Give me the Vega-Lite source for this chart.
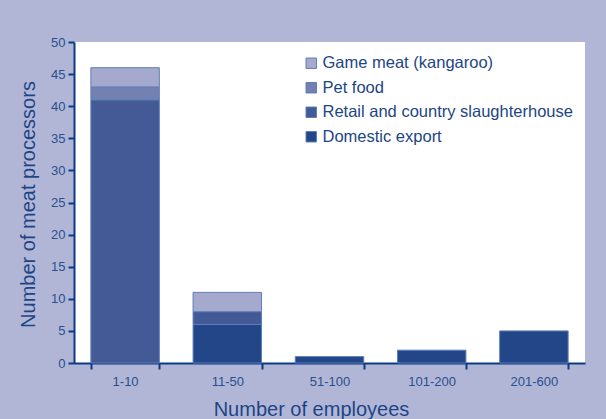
{
  "$schema": "https://vega.github.io/schema/vega-lite/v6.json",
  "width": 511,
  "height": 321,
  "autosize": {"type": "none"},
  "padding": {"left": 74, "top": 42, "right": 21, "bottom": 56},
  "background": "#b1b6d7",
  "config": {
    "font": "Liberation Sans",
    "view": {"fill": "#ffffff", "stroke": null},
    "axis": {
      "domainColor": "#0b3b85",
      "domainWidth": 2,
      "tickColor": "#0b3b85",
      "tickWidth": 2,
      "tickSize": 6,
      "labelColor": "#2a4f8c",
      "labelFontSize": 13,
      "titleColor": "#1d4585",
      "titleFontSize": 20,
      "titleFontWeight": "normal",
      "grid": false
    }
  },
  "data": {
    "values": [
      {"employees": "1-10", "type": "Retail and country slaughterhouse", "k": 2, "count": 41},
      {"employees": "1-10", "type": "Pet food", "k": 3, "count": 2},
      {"employees": "1-10", "type": "Game meat (kangaroo)", "k": 4, "count": 3},
      {"employees": "11-50", "type": "Domestic export", "k": 1, "count": 6},
      {"employees": "11-50", "type": "Retail and country slaughterhouse", "k": 2, "count": 2},
      {"employees": "11-50", "type": "Game meat (kangaroo)", "k": 4, "count": 3},
      {"employees": "51-100", "type": "Domestic export", "k": 1, "count": 1},
      {"employees": "101-200", "type": "Domestic export", "k": 1, "count": 2},
      {"employees": "201-600", "type": "Domestic export", "k": 1, "count": 5}
    ]
  },
  "mark": {"type": "bar", "stroke": "#5f7fb8", "strokeWidth": 1},
  "encoding": {
    "x": {
      "field": "employees",
      "type": "nominal",
      "sort": ["1-10", "11-50", "51-100", "101-200", "201-600"],
      "scale": {"paddingInner": 0.33, "paddingOuter": 0.165},
      "axis": {
        "title": "Number of employees",
        "labelAngle": 0,
        "labelPadding": 6,
        "tickBand": "extent",
        "titleX": 237,
        "titleY": 52,
        "titleBaseline": "alphabetic"
      }
    },
    "y": {
      "field": "count",
      "type": "quantitative",
      "stack": "zero",
      "scale": {"domain": [0, 50], "nice": false},
      "axis": {
        "title": "Number of meat processors",
        "values": [0, 5, 10, 15, 20, 25, 30, 35, 40, 45, 50],
        "labelPadding": 3,
        "titleX": -40,
        "titleY": 162,
        "titleBaseline": "alphabetic",
        "titleAlign": "center"
      }
    },
    "order": {"field": "k", "type": "quantitative", "sort": "ascending"},
    "color": {
      "field": "type",
      "type": "nominal",
      "scale": {
        "domain": ["Game meat (kangaroo)", "Pet food", "Retail and country slaughterhouse", "Domestic export"],
        "range": ["#a4a9cd", "#7480b2", "#435a96", "#234688"]
      },
      "legend": {
        "title": null,
        "orient": "none",
        "legendX": 229,
        "legendY": 13,
        "padding": 0,
        "symbolType": "square",
        "symbolSize": 110,
        "symbolStrokeColor": "#5f7fb8",
        "symbolStrokeWidth": 1,
        "labelFontSize": 16.5,
        "labelColor": "#1d4585",
        "labelOffset": 3,
        "labelLimit": 400,
        "rowPadding": 7.5
      }
    }
  }
}
